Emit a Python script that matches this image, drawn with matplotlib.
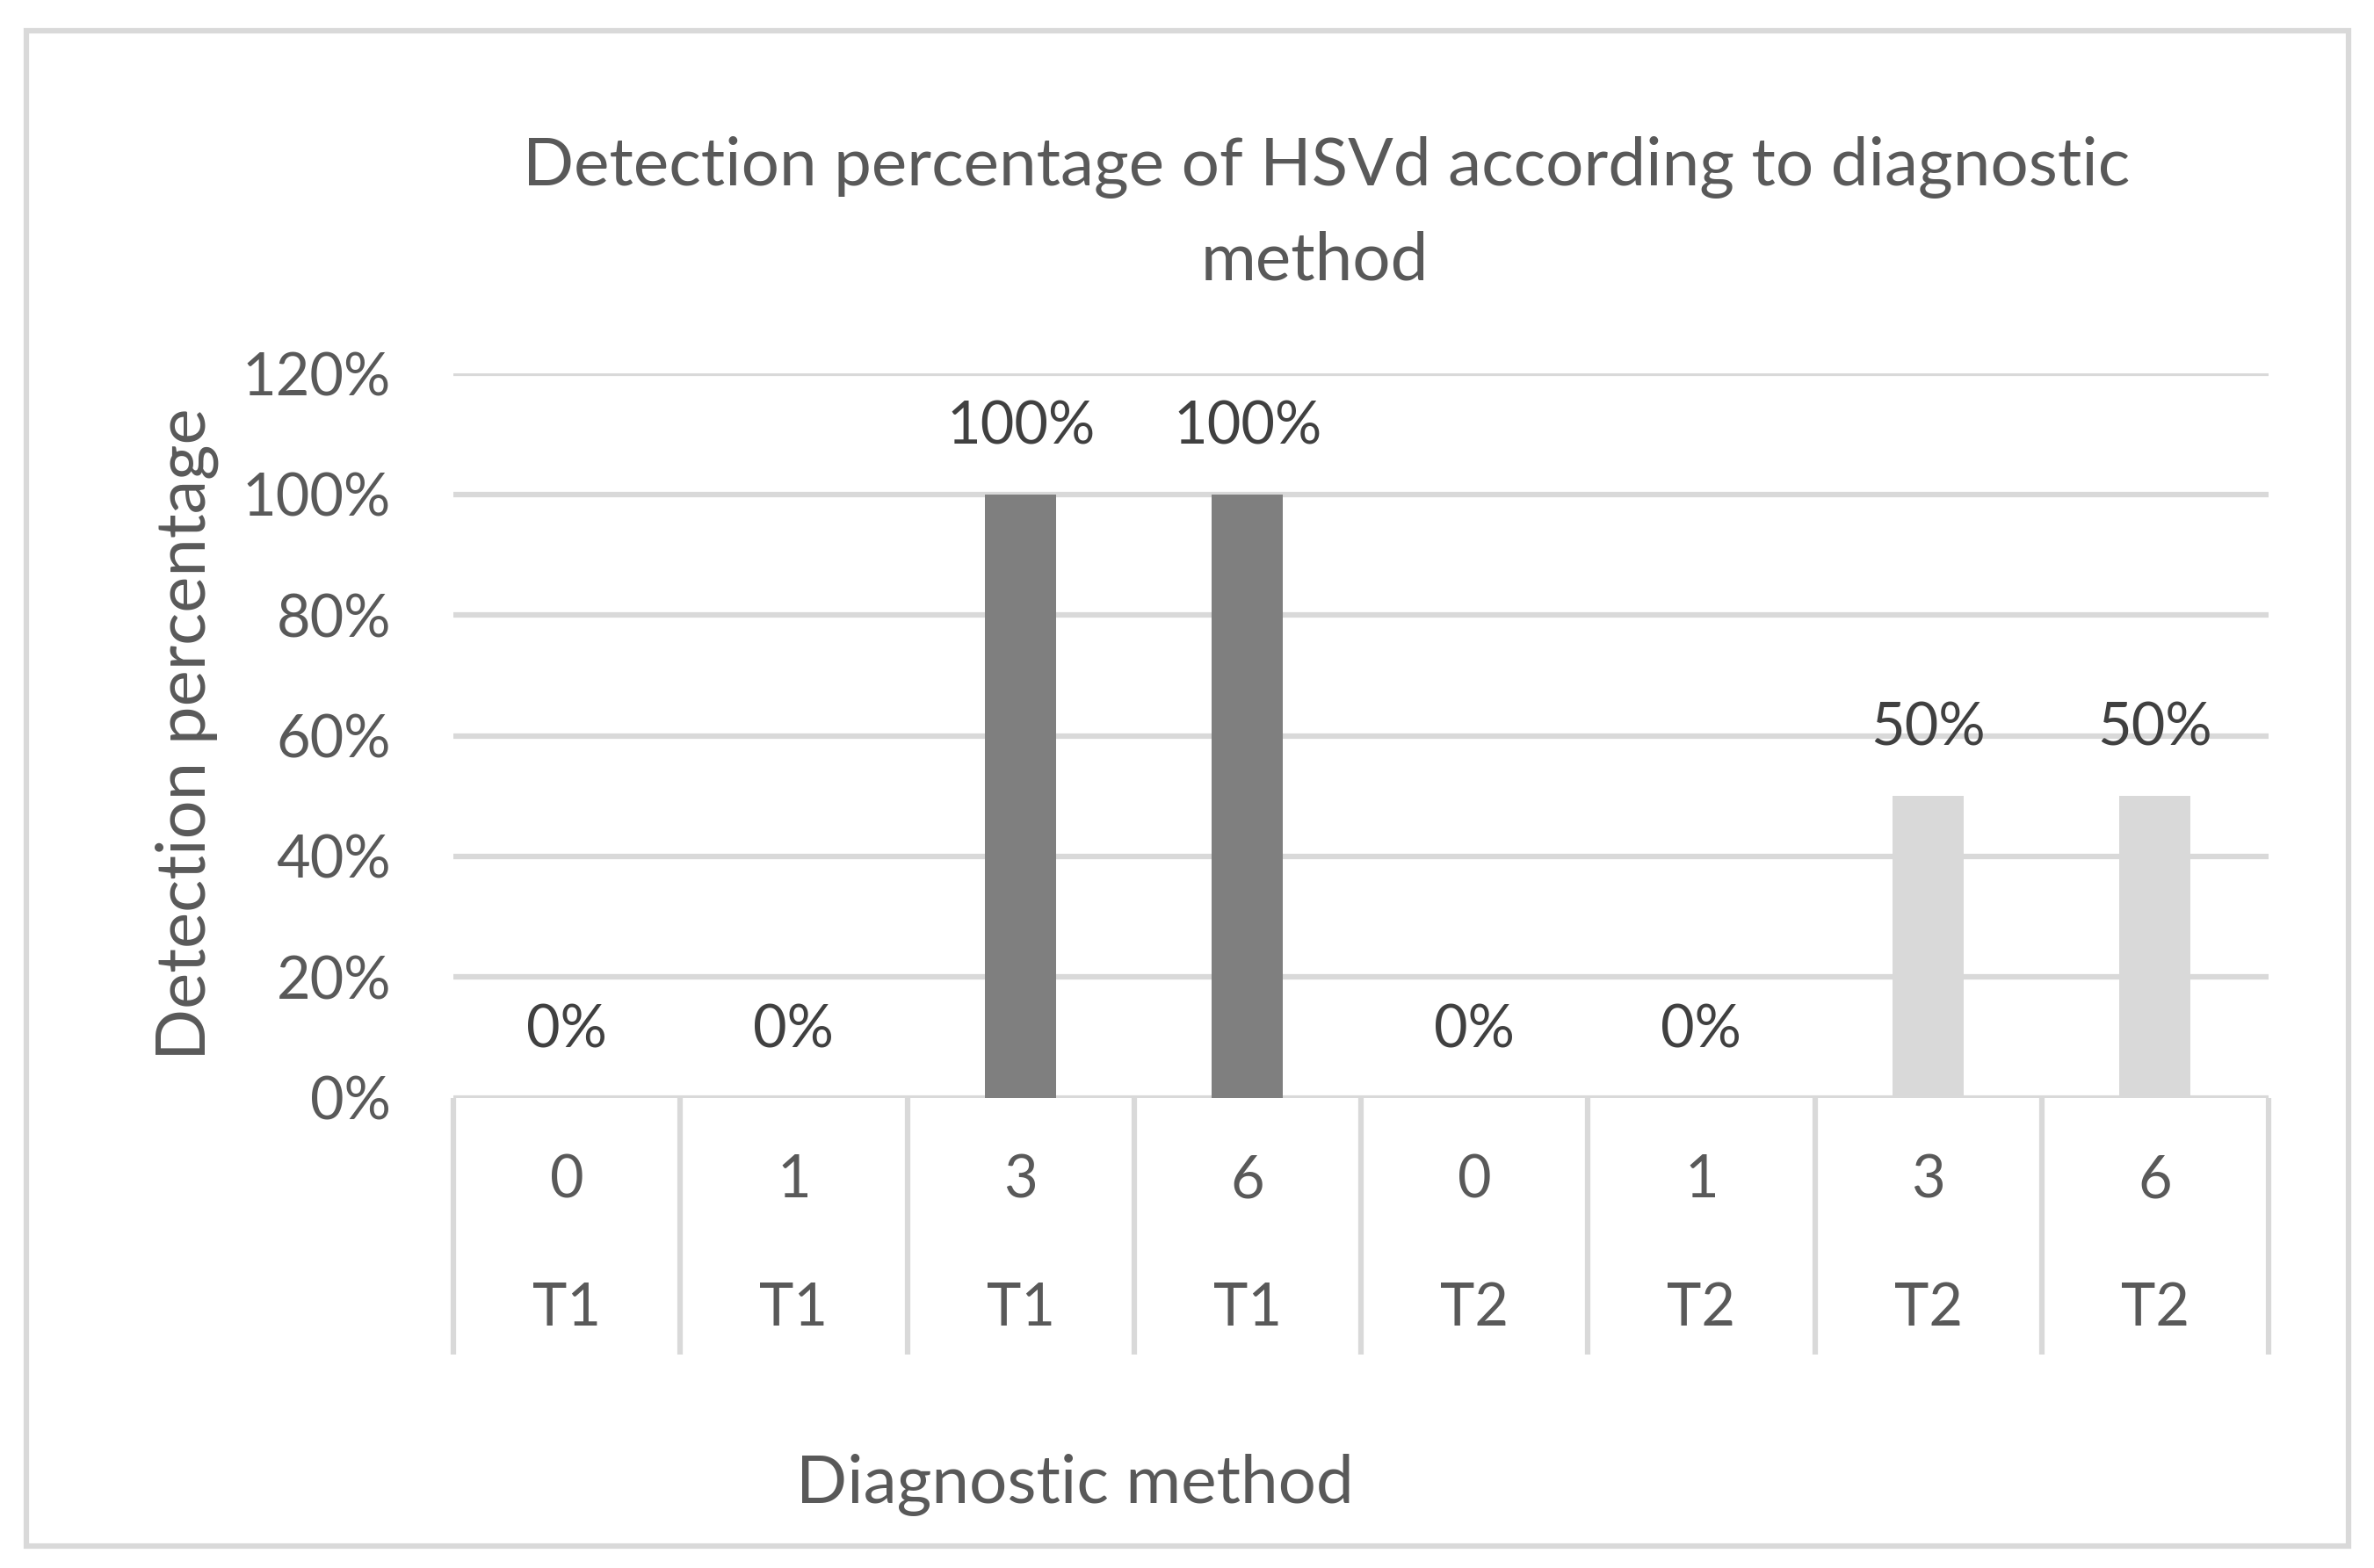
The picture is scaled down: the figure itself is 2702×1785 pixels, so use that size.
import matplotlib
matplotlib.use("Agg")
import matplotlib.pyplot as plt
from matplotlib.patches import Rectangle
from matplotlib.ticker import PercentFormatter

plt.rcParams['font.family'] = ['Lato', 'DejaVu Sans']

# data
months = ["0", "1", "3", "6", "0", "1", "3", "6"]
groups = ["T1", "T1", "T1", "T1", "T2", "T2", "T2", "T2"]
detection = [0.0, 0.0, 1.0, 1.0, 0.0, 0.0, 0.5, 0.5]
bar_labels = ["0%", "0%", "100%", "100%", "0%", "0%", "50%", "50%"]
title_lines = ["Detection percentage of HSVd according to diagnostic", "method"]

c_text = "#595959"
c_label = "#404040"
c_grid = "#D9D9D9"
bar_colors = {"T1": "#7F7F7F", "T2": "#D9D9D9"}
W, H = 2702, 1785
lw = 4.5
fs_tick = 48
fs_title = 55

fig = plt.figure(figsize=(W / 100, H / 100), dpi=100)
ax = fig.add_axes([516 / W, 1 - 1249.5 / H, (2582 - 516) / W, (1249.5 - 425.5) / H])

x = list(range(len(months)))
ax.bar(x, detection, width=0.314, color=[bar_colors[g] for g in groups], zorder=3)

ax.set_xlim(-0.5, len(months) - 0.5)
ax.set_ylim(0, 1.2)
ax.set_yticks([0, 0.2, 0.4, 0.6, 0.8, 1.0, 1.2])
ax.yaxis.set_major_formatter(PercentFormatter(1.0, decimals=0))
ax.tick_params(axis='y', length=0, pad=51, labelsize=fs_tick, labelcolor=c_text)
ax.set_xticks([])
ax.yaxis.grid(True, color=c_grid, linewidth=lw, zorder=0)
ax.set_axisbelow(True)
for sp in ax.spines.values():
    sp.set_visible(False)

# value labels above bars
for xi, v, lab in zip(x, detection, bar_labels):
    ax.annotate(lab, (xi, v), xytext=(0, 55), textcoords="offset points",
                ha='center', va='center', fontsize=fs_tick, color=c_label)

# two-level category axis
trans = ax.get_xaxis_transform()
for i in range(len(months) + 1):
    ax.plot([i - 0.5, i - 0.5], [0, -0.355], transform=trans, color=c_grid,
            linewidth=lw, clip_on=False, solid_capstyle='butt')
for xi, m, g in zip(x, months, groups):
    ax.text(xi, -0.1147, m, transform=trans, ha='center', va='center',
            fontsize=fs_tick, color=c_text)
    ax.text(xi, -0.2919, g, transform=trans, ha='center', va='center',
            fontsize=fs_tick, color=c_text)

# titles
fig.text(1510 / W, 1 - 190 / H, title_lines[0], ha='center', va='center',
         fontsize=fs_title, color=c_text)
fig.text(1496 / W, 1 - 297 / H, title_lines[1], ha='center', va='center',
         fontsize=fs_title, color=c_text)
fig.text(1223 / W, 1 - 1690 / H, "Diagnostic method", ha='center', va='center',
         fontsize=55, color=c_text)
fig.text(213 / W, 1 - 836 / H, "Detection percentage", ha='center', va='center',
         rotation=90, fontsize=56, color=c_text)

# chart frame
fig.add_artist(Rectangle((30 / W, 1 - 1760 / H), (2673 - 30) / W, (1760 - 35) / H,
                         transform=fig.transFigure, fill=False, edgecolor=c_grid,
                         linewidth=lw))

fig.savefig("out.png", dpi=100, facecolor='w')
